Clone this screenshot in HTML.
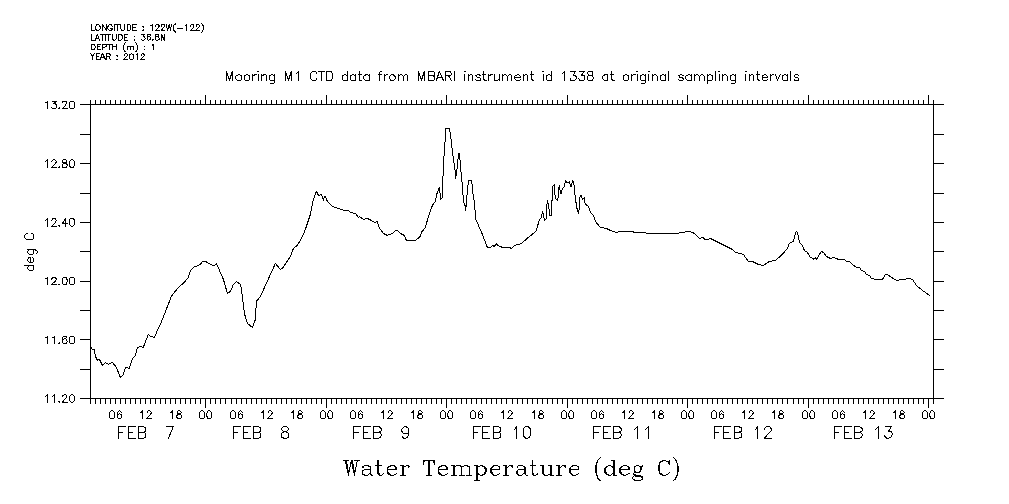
<!DOCTYPE html>
<html><head><meta charset="utf-8"><title>Water Temperature (deg C)</title>
<style>
html,body{margin:0;padding:0;background:#fff;}
body{width:1009px;height:504px;overflow:hidden;font-family:"Liberation Sans",sans-serif;}
svg{display:block;}
.txt text{fill:none;stroke:none;font-family:"Liberation Sans",sans-serif;}
.txt path{fill:none;stroke:#000;stroke-width:1;stroke-linecap:square;stroke-linejoin:round;}
</style></head><body>
<svg width="1009" height="504" viewBox="0 0 1009 504" shape-rendering="crispEdges">
<rect x="0" y="0" width="1009" height="504" fill="#fff"/>
<path fill="#000" d="M90 104h1v295h-1zM933 104h1v295h-1zM80 104h864v1h-864zM80 398h864v1h-864zM80 104h11v1h-11zM933 104h11v1h-11zM80 134h11v1h-11zM933 134h11v1h-11zM80 163h11v1h-11zM933 163h11v1h-11zM80 193h11v1h-11zM933 193h11v1h-11zM80 222h11v1h-11zM933 222h11v1h-11zM80 251h11v1h-11zM933 251h11v1h-11zM80 281h11v1h-11zM933 281h11v1h-11zM80 310h11v1h-11zM933 310h11v1h-11zM80 339h11v1h-11zM933 339h11v1h-11zM80 369h11v1h-11zM933 369h11v1h-11zM80 398h11v1h-11zM933 398h11v1h-11zM90 100h1v5h-1zM90 398h1v6h-1zM95 100h1v5h-1zM95 398h1v6h-1zM100 100h1v5h-1zM100 398h1v6h-1zM105 100h1v5h-1zM105 398h1v6h-1zM110 100h1v5h-1zM110 398h1v6h-1zM115 100h1v5h-1zM115 398h1v6h-1zM120 100h1v5h-1zM120 398h1v6h-1zM125 100h1v5h-1zM125 398h1v6h-1zM130 100h1v5h-1zM130 398h1v6h-1zM135 100h1v5h-1zM135 398h1v6h-1zM140 100h1v5h-1zM140 398h1v6h-1zM145 100h1v5h-1zM145 398h1v6h-1zM150 100h1v5h-1zM150 398h1v6h-1zM155 100h1v5h-1zM155 398h1v6h-1zM160 100h1v5h-1zM160 398h1v6h-1zM165 100h1v5h-1zM165 398h1v6h-1zM170 100h1v5h-1zM170 398h1v6h-1zM175 100h1v5h-1zM175 398h1v6h-1zM180 100h1v5h-1zM180 398h1v6h-1zM185 100h1v5h-1zM185 398h1v6h-1zM190 100h1v5h-1zM190 398h1v6h-1zM195 100h1v5h-1zM195 398h1v6h-1zM200 100h1v5h-1zM200 398h1v6h-1zM205 95h1v10h-1zM205 398h1v10h-1zM210 100h1v5h-1zM210 398h1v6h-1zM215 100h1v5h-1zM215 398h1v6h-1zM220 100h1v5h-1zM220 398h1v6h-1zM225 100h1v5h-1zM225 398h1v6h-1zM231 100h1v5h-1zM231 398h1v6h-1zM236 100h1v5h-1zM236 398h1v6h-1zM241 100h1v5h-1zM241 398h1v6h-1zM246 100h1v5h-1zM246 398h1v6h-1zM251 100h1v5h-1zM251 398h1v6h-1zM256 100h1v5h-1zM256 398h1v6h-1zM261 100h1v5h-1zM261 398h1v6h-1zM266 100h1v5h-1zM266 398h1v6h-1zM271 100h1v5h-1zM271 398h1v6h-1zM276 100h1v5h-1zM276 398h1v6h-1zM281 100h1v5h-1zM281 398h1v6h-1zM286 100h1v5h-1zM286 398h1v6h-1zM291 100h1v5h-1zM291 398h1v6h-1zM296 100h1v5h-1zM296 398h1v6h-1zM301 100h1v5h-1zM301 398h1v6h-1zM306 100h1v5h-1zM306 398h1v6h-1zM311 100h1v5h-1zM311 398h1v6h-1zM316 100h1v5h-1zM316 398h1v6h-1zM321 100h1v5h-1zM321 398h1v6h-1zM326 95h1v10h-1zM326 398h1v10h-1zM331 100h1v5h-1zM331 398h1v6h-1zM336 100h1v5h-1zM336 398h1v6h-1zM341 100h1v5h-1zM341 398h1v6h-1zM346 100h1v5h-1zM346 398h1v6h-1zM351 100h1v5h-1zM351 398h1v6h-1zM356 100h1v5h-1zM356 398h1v6h-1zM361 100h1v5h-1zM361 398h1v6h-1zM366 100h1v5h-1zM366 398h1v6h-1zM371 100h1v5h-1zM371 398h1v6h-1zM376 100h1v5h-1zM376 398h1v6h-1zM381 100h1v5h-1zM381 398h1v6h-1zM386 100h1v5h-1zM386 398h1v6h-1zM391 100h1v5h-1zM391 398h1v6h-1zM396 100h1v5h-1zM396 398h1v6h-1zM401 100h1v5h-1zM401 398h1v6h-1zM406 100h1v5h-1zM406 398h1v6h-1zM411 100h1v5h-1zM411 398h1v6h-1zM416 100h1v5h-1zM416 398h1v6h-1zM421 100h1v5h-1zM421 398h1v6h-1zM426 100h1v5h-1zM426 398h1v6h-1zM431 100h1v5h-1zM431 398h1v6h-1zM436 100h1v5h-1zM436 398h1v6h-1zM441 100h1v5h-1zM441 398h1v6h-1zM446 95h1v10h-1zM446 398h1v10h-1zM451 100h1v5h-1zM451 398h1v6h-1zM456 100h1v5h-1zM456 398h1v6h-1zM461 100h1v5h-1zM461 398h1v6h-1zM466 100h1v5h-1zM466 398h1v6h-1zM471 100h1v5h-1zM471 398h1v6h-1zM476 100h1v5h-1zM476 398h1v6h-1zM481 100h1v5h-1zM481 398h1v6h-1zM486 100h1v5h-1zM486 398h1v6h-1zM491 100h1v5h-1zM491 398h1v6h-1zM496 100h1v5h-1zM496 398h1v6h-1zM501 100h1v5h-1zM501 398h1v6h-1zM506 100h1v5h-1zM506 398h1v6h-1zM512 100h1v5h-1zM512 398h1v6h-1zM517 100h1v5h-1zM517 398h1v6h-1zM522 100h1v5h-1zM522 398h1v6h-1zM527 100h1v5h-1zM527 398h1v6h-1zM532 100h1v5h-1zM532 398h1v6h-1zM537 100h1v5h-1zM537 398h1v6h-1zM542 100h1v5h-1zM542 398h1v6h-1zM547 100h1v5h-1zM547 398h1v6h-1zM552 100h1v5h-1zM552 398h1v6h-1zM557 100h1v5h-1zM557 398h1v6h-1zM562 100h1v5h-1zM562 398h1v6h-1zM567 95h1v10h-1zM567 398h1v10h-1zM572 100h1v5h-1zM572 398h1v6h-1zM577 100h1v5h-1zM577 398h1v6h-1zM582 100h1v5h-1zM582 398h1v6h-1zM587 100h1v5h-1zM587 398h1v6h-1zM592 100h1v5h-1zM592 398h1v6h-1zM597 100h1v5h-1zM597 398h1v6h-1zM602 100h1v5h-1zM602 398h1v6h-1zM607 100h1v5h-1zM607 398h1v6h-1zM612 100h1v5h-1zM612 398h1v6h-1zM617 100h1v5h-1zM617 398h1v6h-1zM622 100h1v5h-1zM622 398h1v6h-1zM627 100h1v5h-1zM627 398h1v6h-1zM632 100h1v5h-1zM632 398h1v6h-1zM637 100h1v5h-1zM637 398h1v6h-1zM642 100h1v5h-1zM642 398h1v6h-1zM647 100h1v5h-1zM647 398h1v6h-1zM652 100h1v5h-1zM652 398h1v6h-1zM657 100h1v5h-1zM657 398h1v6h-1zM662 100h1v5h-1zM662 398h1v6h-1zM667 100h1v5h-1zM667 398h1v6h-1zM672 100h1v5h-1zM672 398h1v6h-1zM677 100h1v5h-1zM677 398h1v6h-1zM682 100h1v5h-1zM682 398h1v6h-1zM687 95h1v10h-1zM687 398h1v10h-1zM692 100h1v5h-1zM692 398h1v6h-1zM697 100h1v5h-1zM697 398h1v6h-1zM702 100h1v5h-1zM702 398h1v6h-1zM707 100h1v5h-1zM707 398h1v6h-1zM712 100h1v5h-1zM712 398h1v6h-1zM717 100h1v5h-1zM717 398h1v6h-1zM722 100h1v5h-1zM722 398h1v6h-1zM727 100h1v5h-1zM727 398h1v6h-1zM732 100h1v5h-1zM732 398h1v6h-1zM737 100h1v5h-1zM737 398h1v6h-1zM742 100h1v5h-1zM742 398h1v6h-1zM747 100h1v5h-1zM747 398h1v6h-1zM752 100h1v5h-1zM752 398h1v6h-1zM757 100h1v5h-1zM757 398h1v6h-1zM762 100h1v5h-1zM762 398h1v6h-1zM767 100h1v5h-1zM767 398h1v6h-1zM772 100h1v5h-1zM772 398h1v6h-1zM777 100h1v5h-1zM777 398h1v6h-1zM782 100h1v5h-1zM782 398h1v6h-1zM787 100h1v5h-1zM787 398h1v6h-1zM793 100h1v5h-1zM793 398h1v6h-1zM798 100h1v5h-1zM798 398h1v6h-1zM803 100h1v5h-1zM803 398h1v6h-1zM808 95h1v10h-1zM808 398h1v10h-1zM813 100h1v5h-1zM813 398h1v6h-1zM818 100h1v5h-1zM818 398h1v6h-1zM823 100h1v5h-1zM823 398h1v6h-1zM828 100h1v5h-1zM828 398h1v6h-1zM833 100h1v5h-1zM833 398h1v6h-1zM838 100h1v5h-1zM838 398h1v6h-1zM843 100h1v5h-1zM843 398h1v6h-1zM848 100h1v5h-1zM848 398h1v6h-1zM853 100h1v5h-1zM853 398h1v6h-1zM858 100h1v5h-1zM858 398h1v6h-1zM863 100h1v5h-1zM863 398h1v6h-1zM868 100h1v5h-1zM868 398h1v6h-1zM873 100h1v5h-1zM873 398h1v6h-1zM878 100h1v5h-1zM878 398h1v6h-1zM883 100h1v5h-1zM883 398h1v6h-1zM888 100h1v5h-1zM888 398h1v6h-1zM893 100h1v5h-1zM893 398h1v6h-1zM898 100h1v5h-1zM898 398h1v6h-1zM903 100h1v5h-1zM903 398h1v6h-1zM908 100h1v5h-1zM908 398h1v6h-1zM913 100h1v5h-1zM913 398h1v6h-1zM918 100h1v5h-1zM918 398h1v6h-1zM923 100h1v5h-1zM923 398h1v6h-1zM928 95h1v10h-1zM928 398h1v10h-1zM933 100h1v5h-1zM933 398h1v6h-1z"/>
<polyline fill="none" stroke="#000" stroke-width="1" stroke-linejoin="round" stroke-linecap="square" points="90.4,346.4 92.4,349.4 94.4,349.4 95.4,356.4 97.4,360.4 99.4,359.4 102.4,365.4 105.4,362.4 108.4,364.4 112.4,362.4 116.4,367.4 120.4,377.4 123.4,374.4 125.4,367.4 129.4,368.4 132.4,358.4 135.4,355.4 137.4,347.4 140.4,346.4 143.4,347.4 144.4,344.4 148.4,334.4 150.4,336.4 154.4,337.4 157.4,330.4 160.4,324.4 171.4,296.4 174.4,292.4 179.4,286.4 183.4,283.4 188.4,277.4 190.4,270.4 193.4,267.4 200.4,264.4 202.4,261.4 205.4,261.4 212.4,265.4 214.4,265.4 216.4,263.4 223.4,279.4 227.4,293.4 230.4,291.4 233.4,284.4 236.4,281.4 240.4,284.4 241.4,289.4 244.4,313.4 247.4,323.4 252.4,327.4 255.4,319.4 256.4,301.4 260.4,296.4 275.4,263.4 280.4,269.4 282.4,268.4 286.4,262.4 290.4,256.4 293.4,248.4 297.4,245.4 302.4,236.4 305.4,229.4 310.4,214.4 313.4,199.4 316.4,191.4 318.4,195.4 321.4,194.4 323.4,200.4 324.4,196.4 325.4,196.4 327.4,201.4 332.4,206.4 344.4,210.4 348.4,210.4 350.4,212.4 355.4,213.4 358.4,217.4 359.4,216.4 363.4,219.4 367.4,218.4 371.4,220.4 374.4,222.4 377.4,221.4 378.4,226.4 380.4,229.4 383.4,233.4 387.4,235.4 392.4,233.4 395.4,230.4 397.4,230.4 400.4,233.4 404.4,235.4 406.4,240.4 415.4,240.4 420.4,236.4 421.4,232.4 425.4,227.4 428.4,216.4 432.4,205.4 435.4,201.4 436.4,195.4 437.4,192.4 438.4,190.4 439.4,187.4 439.4,192.4 440.4,193.4 440.4,199.4 441.4,198.4 442.4,197.4 442.4,176.4 443.4,175.4 443.4,156.4 444.4,155.4 444.4,142.4 445.4,141.4 445.4,128.4 448.4,128.4 449.4,128.4 449.4,131.4 450.4,132.4 450.4,138.4 451.4,139.4 451.4,147.4 452.4,148.4 452.4,155.4 453.4,156.4 453.4,162.4 454.4,163.4 454.4,169.4 455.4,170.4 455.4,178.4 456.4,174.4 456.4,169.4 457.4,168.4 457.4,159.4 458.4,158.4 458.4,153.4 459.4,153.4 459.4,159.4 460.4,160.4 460.4,171.4 461.4,172.4 461.4,181.4 462.4,182.4 462.4,194.4 463.4,195.4 463.4,202.4 464.4,203.4 464.4,205.4 465.4,205.4 465.4,210.4 466.4,204.4 466.4,195.4 467.4,194.4 467.4,185.4 468.4,184.4 468.4,180.4 470.4,180.4 471.4,180.4 471.4,183.4 472.4,184.4 472.4,193.4 473.4,194.4 473.4,199.4 474.4,200.4 474.4,209.4 475.4,210.4 475.4,218.4 482.4,234.4 487.4,247.4 490.4,247.4 492.4,245.4 494.4,246.4 496.4,243.4 497.4,245.4 502.4,247.4 509.4,247.4 511.4,248.4 514.4,245.4 519.4,244.4 521.4,243.4 528.4,237.4 533.4,233.4 536.4,230.4 539.4,219.4 541.4,217.4 542.4,211.4 543.4,214.4 544.4,220.4 546.4,218.4 546.4,209.4 547.4,200.4 548.4,204.4 549.4,212.4 549.4,215.4 551.4,215.4 551.4,200.4 552.4,200.4 552.4,186.4 554.4,184.4 554.4,190.4 555.4,198.4 557.4,200.4 558.4,196.4 558.4,189.4 559.4,185.4 560.4,193.4 561.4,193.4 562.4,188.4 564.4,186.4 565.4,180.4 566.4,182.4 568.4,182.4 569.4,181.4 570.4,186.4 571.4,186.4 572.4,180.4 573.4,182.4 574.4,186.4 574.4,194.4 575.4,195.4 575.4,202.4 576.4,202.4 576.4,207.4 577.4,209.4 578.4,213.4 579.4,208.4 579.4,200.4 580.4,195.4 581.4,195.4 582.4,199.4 583.4,198.4 584.4,197.4 584.4,200.4 585.4,204.4 587.4,205.4 589.4,208.4 590.4,212.4 593.4,215.4 595.4,221.4 600.4,227.4 606.4,228.4 610.4,230.4 616.4,232.4 619.4,231.4 632.4,231.4 634.4,232.4 645.4,232.4 646.4,233.4 678.4,233.4 680.4,232.4 684.4,232.4 685.4,231.4 689.4,231.4 694.4,233.4 699.4,238.4 703.4,237.4 704.4,239.4 708.4,239.4 710.4,238.4 732.4,249.4 735.4,252.4 743.4,254.4 748.4,261.4 752.4,261.4 758.4,264.4 763.4,265.4 769.4,261.4 775.4,260.4 782.4,254.4 787.4,248.4 789.4,243.4 793.4,241.4 795.4,233.4 796.4,231.4 797.4,232.4 799.4,242.4 800.4,243.4 802.4,245.4 804.4,250.4 807.4,252.4 810.4,257.4 813.4,258.4 813.4,259.4 815.4,257.4 816.4,259.4 819.4,254.4 821.4,251.4 823.4,252.4 826.4,256.4 830.4,258.4 833.4,257.4 838.4,259.4 844.4,259.4 846.4,261.4 849.4,261.4 852.4,264.4 856.4,267.4 859.4,267.4 861.4,270.4 864.4,271.4 866.4,274.4 869.4,275.4 871.4,278.4 875.4,279.4 882.4,279.4 885.4,274.4 887.4,274.4 894.4,279.4 897.4,280.4 900.4,279.4 905.4,279.4 907.4,278.4 909.4,278.4 912.4,279.4 916.4,285.4 922.4,290.4 925.4,292.4 929.4,295.4"/>
<g class="txt">
<g><text x="90.9" y="30.6" font-size="8.2" textLength="113.0" lengthAdjust="spacingAndGlyphs" xml:space="preserve">LONGITUDE : 122W(-122)</text><path d="M91.4 24.4L91.4 30.4M91.4 30.4L94.4 30.4M97.4 24.4L96.4 24.4L96.4 25.4L95.4 26.4L95.4 28.4L95.4 29.4L96.4 29.4L96.4 30.4L97.4 30.4L98.4 30.4L99.4 29.4L100.4 28.4L100.4 26.4L99.4 26.4L99.4 25.4L98.4 24.4L97.4 24.4M102.4 24.4L102.4 30.4M102.4 24.4L106.4 30.4M106.4 24.4L106.4 30.4M112.4 26.4L111.4 25.4L111.4 24.4L110.4 24.4L109.4 24.4L108.4 25.4L108.4 26.4L107.4 26.4L107.4 28.4L108.4 29.4L109.4 30.4L110.4 30.4L111.4 30.4L111.4 29.4L112.4 29.4L112.4 28.4M110.4 28.4L112.4 28.4M114.4 24.4L114.4 30.4M117.4 24.4L117.4 30.4M115.4 24.4L119.4 24.4M120.4 24.4L120.4 28.4L121.4 29.4L121.4 30.4L122.4 30.4L123.4 30.4L124.4 29.4L124.4 28.4L124.4 24.4M127.4 24.4L127.4 30.4M127.4 24.4L129.4 24.4L130.4 25.4L130.4 26.4L130.4 28.4L130.4 29.4L129.4 30.4L127.4 30.4M132.4 24.4L132.4 30.4M132.4 24.4L136.4 24.4M132.4 27.4L135.4 27.4M132.4 30.4L136.4 30.4M143.4 26.4L142.4 26.4L143.4 27.4L143.4 26.4M143.4 29.4L142.4 30.4L143.4 30.4L143.4 29.4M150.4 25.4L151.4 25.4L152.4 24.4L152.4 30.4M155.4 26.4L155.4 25.4L156.4 24.4L157.4 24.4L158.4 24.4L158.4 25.4L159.4 25.4L159.4 26.4L158.4 26.4L158.4 27.4L155.4 30.4L159.4 30.4M161.4 26.4L161.4 25.4L161.4 24.4L162.4 24.4L163.4 24.4L164.4 24.4L164.4 25.4L164.4 26.4L163.4 27.4L161.4 30.4L164.4 30.4M166.4 24.4L167.4 30.4M169.4 24.4L167.4 30.4M169.4 24.4L170.4 30.4M171.4 24.4L170.4 30.4M175.4 23.4L175.4 24.4L174.4 24.4L173.4 26.4L173.4 27.4L173.4 28.4L173.4 29.4L174.4 31.4L175.4 31.4L175.4 32.4M177.4 28.4L182.4 28.4M185.4 25.4L186.4 25.4L186.4 24.4L186.4 30.4M190.4 26.4L190.4 25.4L191.4 24.4L192.4 24.4L193.4 24.4L193.4 25.4L193.4 26.4L193.4 27.4L190.4 30.4L194.4 30.4M196.4 26.4L196.4 25.4L196.4 24.4L197.4 24.4L198.4 24.4L199.4 25.4L199.4 26.4L198.4 27.4L195.4 30.4L199.4 30.4M201.4 23.4L202.4 24.4L203.4 26.4L203.4 27.4L203.4 28.4L203.4 29.4L202.4 31.4L201.4 32.4"/></g>
<g><text x="90.9" y="40.2" font-size="8.2" textLength="74.0" lengthAdjust="spacingAndGlyphs" xml:space="preserve">LATITUDE : 36.8N</text><path d="M91.4 34.4L91.4 40.4M91.4 40.4L94.4 40.4M97.4 34.4L95.4 40.4M97.4 34.4L99.4 40.4M95.4 38.4L98.4 38.4M102.4 34.4L102.4 40.4M100.4 34.4L104.4 34.4M105.4 34.4L105.4 40.4M108.4 34.4L108.4 40.4M106.4 34.4L110.4 34.4M112.4 34.4L112.4 38.4L112.4 39.4L113.4 39.4L113.4 40.4L114.4 40.4L115.4 39.4L116.4 38.4L116.4 34.4M118.4 34.4L118.4 40.4M118.4 34.4L120.4 34.4L121.4 34.4L121.4 35.4L122.4 35.4L122.4 36.4L122.4 38.4L121.4 39.4L120.4 40.4L118.4 40.4M124.4 34.4L124.4 40.4M124.4 34.4L127.4 34.4M124.4 37.4L126.4 37.4M124.4 40.4L127.4 40.4M134.4 36.4h.01M134.4 39.4L134.4 40.4L134.4 39.4M141.4 34.4L144.4 34.4L143.4 36.4L144.4 36.4L144.4 37.4L145.4 38.4L144.4 39.4L143.4 40.4L142.4 40.4L141.4 39.4M150.4 35.4L150.4 34.4L149.4 34.4L148.4 34.4L147.4 34.4L147.4 35.4L147.4 36.4L147.4 38.4L147.4 39.4L148.4 40.4L149.4 39.4L150.4 39.4L150.4 38.4L150.4 37.4L149.4 36.4L148.4 36.4L147.4 36.4L147.4 37.4L147.4 38.4M152.4 39.4L152.4 40.4L153.4 39.4L152.4 39.4M156.4 34.4L155.4 34.4L155.4 35.4L155.4 36.4L156.4 36.4L157.4 36.4L158.4 37.4L159.4 38.4L159.4 39.4L158.4 39.4L157.4 40.4L156.4 40.4L155.4 39.4L155.4 38.4L155.4 37.4L156.4 36.4L157.4 36.4L158.4 36.4L158.4 35.4L158.4 34.4L157.4 34.4L156.4 34.4M161.4 34.4L161.4 40.4M161.4 34.4L164.4 40.4M164.4 34.4L164.4 40.4"/></g>
<g><text x="90.9" y="50.0" font-size="8.2" textLength="63.0" lengthAdjust="spacingAndGlyphs" xml:space="preserve">DEPTH (m) : 1</text><path d="M91.4 44.4L91.4 49.4M91.4 44.4L93.4 44.4L94.4 44.4L94.4 45.4L95.4 46.4L95.4 47.4L94.4 48.4L94.4 49.4L93.4 49.4L91.4 49.4M97.4 44.4L97.4 49.4M97.4 44.4L100.4 44.4M97.4 46.4L99.4 46.4M97.4 49.4L100.4 49.4M102.4 44.4L102.4 49.4M102.4 44.4L104.4 44.4L105.4 44.4L106.4 44.4L106.4 45.4L106.4 46.4L105.4 46.4L104.4 47.4L102.4 47.4M109.4 44.4L109.4 49.4M107.4 44.4L111.4 44.4M112.4 44.4L112.4 49.4M116.4 44.4L116.4 49.4M112.4 46.4L116.4 46.4M125.4 42.4L124.4 43.4L124.4 44.4L123.4 45.4L123.4 46.4L123.4 47.4L123.4 49.4L124.4 50.4L124.4 51.4L125.4 51.4M127.4 46.4L127.4 49.4M127.4 47.4L128.4 46.4L129.4 46.4L130.4 46.4L130.4 47.4L130.4 49.4M130.4 47.4L131.4 46.4L132.4 46.4L133.4 46.4L133.4 47.4L133.4 49.4M135.4 42.4L136.4 43.4L136.4 44.4L137.4 45.4L137.4 46.4L137.4 47.4L137.4 49.4L136.4 50.4L136.4 51.4L135.4 51.4M144.4 46.4h.01M144.4 49.4h.01M152.4 45.4L152.4 44.4L153.4 44.4L153.4 49.4"/></g>
<g><text x="89.9" y="59.6" font-size="8.2" textLength="55.0" lengthAdjust="spacingAndGlyphs" xml:space="preserve">YEAR : 2012</text><path d="M90.4 53.4L92.4 56.4L92.4 59.4M94.4 53.4L92.4 56.4M96.4 53.4L96.4 59.4M96.4 53.4L99.4 53.4M96.4 56.4L98.4 56.4M96.4 59.4L99.4 59.4M102.4 53.4L100.4 59.4M102.4 53.4L105.4 59.4M101.4 57.4L104.4 57.4M106.4 53.4L106.4 59.4M106.4 53.4L109.4 53.4L109.4 54.4L110.4 54.4L110.4 55.4L109.4 56.4L106.4 56.4M108.4 56.4L110.4 59.4M117.4 55.4L116.4 55.4L117.4 56.4L117.4 55.4M117.4 59.4L116.4 59.4L117.4 59.4M124.4 55.4L124.4 54.4L125.4 53.4L126.4 53.4L127.4 54.4L127.4 55.4L126.4 56.4L123.4 59.4L127.4 59.4M131.4 53.4L130.4 54.4L129.4 54.4L129.4 56.4L129.4 57.4L129.4 58.4L130.4 59.4L131.4 59.4L132.4 59.4L133.4 58.4L133.4 57.4L133.4 56.4L133.4 54.4L132.4 54.4L131.4 53.4M136.4 54.4L137.4 53.4L137.4 59.4M141.4 55.4L141.4 54.4L142.4 53.4L143.4 53.4L143.4 54.4L144.4 54.4L144.4 55.4L143.4 56.4L140.4 59.4L144.4 59.4"/></g>
<g><text x="225.9" y="80.6" font-size="12.6" textLength="573.0" lengthAdjust="spacingAndGlyphs" xml:space="preserve">Mooring M1 CTD data from MBARI instrument id 1338 at original sampling intervals</text><path d="M226.4 71.4L226.4 80.4M226.4 71.4L229.4 80.4M232.4 71.4L229.4 80.4M232.4 71.4L232.4 80.4M238.4 74.4L237.4 75.4L236.4 75.4L235.4 77.4L235.4 78.4L236.4 79.4L237.4 80.4L238.4 80.4L239.4 80.4L240.4 80.4L241.4 79.4L241.4 78.4L241.4 77.4L241.4 75.4L240.4 75.4L239.4 74.4L238.4 74.4M246.4 74.4L245.4 75.4L244.4 75.4L244.4 77.4L244.4 78.4L244.4 79.4L245.4 80.4L246.4 80.4L247.4 80.4L248.4 80.4L249.4 79.4L249.4 78.4L249.4 77.4L249.4 75.4L248.4 75.4L247.4 74.4L246.4 74.4M252.4 74.4L252.4 80.4M252.4 77.4L253.4 75.4L254.4 75.4L254.4 74.4L256.4 74.4M257.4 71.4L258.4 71.4L257.4 71.4M258.4 74.4L258.4 80.4M261.4 74.4L261.4 80.4M261.4 76.4L263.4 75.4L263.4 74.4L265.4 74.4L266.4 75.4L266.4 76.4L266.4 80.4M274.4 74.4L274.4 81.4L274.4 82.4L273.4 83.4L272.4 83.4L271.4 83.4L270.4 83.4M274.4 75.4L273.4 75.4L272.4 74.4L271.4 74.4L270.4 75.4L269.4 75.4L269.4 77.4L269.4 78.4L269.4 79.4L270.4 80.4L271.4 80.4L272.4 80.4L273.4 80.4L274.4 79.4M285.4 71.4L285.4 80.4M285.4 71.4L288.4 80.4M291.4 71.4L288.4 80.4M291.4 71.4L291.4 80.4M296.4 73.4L297.4 72.4L298.4 71.4L298.4 80.4M316.4 73.4L316.4 72.4L315.4 71.4L314.4 71.4L313.4 71.4L312.4 71.4L311.4 72.4L310.4 73.4L310.4 75.4L310.4 77.4L310.4 78.4L311.4 79.4L312.4 80.4L313.4 80.4L314.4 80.4L315.4 80.4L316.4 79.4L316.4 78.4M321.4 71.4L321.4 80.4M318.4 71.4L324.4 71.4M326.4 71.4L326.4 80.4M326.4 71.4L329.4 71.4L331.4 71.4L331.4 72.4L332.4 73.4L332.4 75.4L332.4 77.4L332.4 78.4L331.4 79.4L331.4 80.4L329.4 80.4L326.4 80.4M347.4 71.4L347.4 80.4M347.4 75.4L346.4 75.4L345.4 74.4L344.4 74.4L343.4 75.4L342.4 75.4L342.4 77.4L342.4 78.4L342.4 79.4L343.4 80.4L344.4 80.4L345.4 80.4L346.4 80.4L347.4 79.4M355.4 74.4L355.4 80.4M355.4 75.4L354.4 75.4L353.4 74.4L352.4 74.4L351.4 75.4L350.4 75.4L350.4 77.4L350.4 78.4L350.4 79.4L351.4 80.4L352.4 80.4L353.4 80.4L354.4 80.4L355.4 79.4M359.4 71.4L359.4 78.4L359.4 80.4L360.4 80.4L361.4 80.4M358.4 74.4L361.4 74.4M369.4 74.4L369.4 80.4M369.4 75.4L368.4 75.4L367.4 74.4L365.4 74.4L365.4 75.4L364.4 75.4L363.4 77.4L363.4 78.4L364.4 79.4L365.4 80.4L367.4 80.4L368.4 80.4L369.4 79.4M381.4 71.4L380.4 71.4L379.4 73.4L379.4 80.4M378.4 74.4L381.4 74.4M384.4 74.4L384.4 80.4M384.4 77.4L384.4 75.4L385.4 75.4L386.4 74.4L387.4 74.4M391.4 74.4L390.4 75.4L389.4 77.4L389.4 78.4L390.4 79.4L390.4 80.4L391.4 80.4L393.4 80.4L394.4 79.4L395.4 78.4L395.4 77.4L394.4 75.4L393.4 75.4L393.4 74.4L391.4 74.4M398.4 74.4L398.4 80.4M398.4 76.4L399.4 75.4L400.4 74.4L401.4 74.4L402.4 75.4L403.4 76.4L403.4 80.4M403.4 76.4L404.4 75.4L405.4 74.4L406.4 74.4L407.4 75.4L407.4 76.4L407.4 80.4M418.4 71.4L418.4 80.4M418.4 71.4L421.4 80.4M424.4 71.4L421.4 80.4M424.4 71.4L424.4 80.4M428.4 71.4L428.4 80.4M428.4 71.4L432.4 71.4L433.4 71.4L434.4 72.4L434.4 73.4L434.4 74.4L434.4 75.4L433.4 75.4L432.4 75.4M428.4 75.4L432.4 75.4L433.4 76.4L434.4 76.4L434.4 77.4L434.4 78.4L434.4 79.4L433.4 80.4L432.4 80.4L428.4 80.4M439.4 71.4L436.4 80.4M439.4 71.4L443.4 80.4M437.4 77.4L441.4 77.4M445.4 71.4L445.4 80.4M445.4 71.4L449.4 71.4L450.4 71.4L450.4 72.4L451.4 73.4L451.4 74.4L450.4 75.4L449.4 75.4L445.4 75.4M448.4 75.4L451.4 80.4M454.4 71.4L454.4 80.4M464.4 71.4L465.4 71.4L464.4 71.4M464.4 74.4L464.4 80.4M468.4 74.4L468.4 80.4M468.4 76.4L469.4 75.4L470.4 74.4L471.4 74.4L472.4 75.4L472.4 76.4L472.4 80.4M480.4 75.4L478.4 74.4L477.4 74.4L476.4 75.4L475.4 75.4L476.4 76.4L477.4 77.4L479.4 77.4L480.4 78.4L480.4 79.4L480.4 80.4L478.4 80.4L477.4 80.4L476.4 80.4L475.4 79.4M483.4 71.4L483.4 78.4L484.4 80.4L485.4 80.4L486.4 80.4M482.4 74.4L485.4 74.4M488.4 74.4L488.4 80.4M488.4 77.4L489.4 75.4L490.4 75.4L490.4 74.4L492.4 74.4M494.4 74.4L494.4 78.4L494.4 80.4L495.4 80.4L496.4 80.4L497.4 80.4L499.4 78.4M499.4 74.4L499.4 80.4M502.4 74.4L502.4 80.4M502.4 76.4L503.4 75.4L504.4 74.4L505.4 74.4L506.4 75.4L507.4 76.4L507.4 80.4M507.4 76.4L508.4 75.4L509.4 74.4L510.4 74.4L511.4 75.4L511.4 76.4L511.4 80.4M514.4 77.4L520.4 77.4L520.4 76.4L519.4 75.4L518.4 74.4L517.4 74.4L516.4 75.4L515.4 75.4L514.4 77.4L514.4 78.4L515.4 79.4L516.4 80.4L517.4 80.4L518.4 80.4L519.4 80.4L520.4 79.4M523.4 74.4L523.4 80.4M523.4 76.4L524.4 75.4L525.4 74.4L526.4 74.4L527.4 75.4L527.4 76.4L527.4 80.4M531.4 71.4L531.4 78.4L532.4 80.4L533.4 80.4M530.4 74.4L533.4 74.4M542.4 71.4L543.4 71.4L542.4 71.4M543.4 74.4L543.4 80.4M551.4 71.4L551.4 80.4M551.4 75.4L550.4 75.4L549.4 74.4L548.4 74.4L547.4 75.4L546.4 75.4L546.4 77.4L546.4 78.4L546.4 79.4L547.4 80.4L548.4 80.4L549.4 80.4L550.4 80.4L551.4 79.4M562.4 73.4L563.4 72.4L564.4 71.4L564.4 80.4M570.4 71.4L575.4 71.4L573.4 75.4L574.4 75.4L575.4 75.4L576.4 77.4L576.4 78.4L575.4 79.4L574.4 80.4L573.4 80.4L572.4 80.4L570.4 80.4L570.4 79.4L570.4 78.4M579.4 71.4L584.4 71.4L581.4 75.4L583.4 75.4L584.4 75.4L584.4 77.4L584.4 78.4L584.4 79.4L583.4 80.4L582.4 80.4L580.4 80.4L579.4 80.4L579.4 79.4L578.4 78.4M589.4 71.4L588.4 71.4L587.4 72.4L587.4 73.4L588.4 74.4L589.4 75.4L590.4 75.4L592.4 75.4L592.4 76.4L593.4 77.4L593.4 78.4L592.4 79.4L592.4 80.4L591.4 80.4L589.4 80.4L588.4 80.4L587.4 79.4L587.4 78.4L587.4 77.4L587.4 76.4L588.4 75.4L589.4 75.4L591.4 75.4L592.4 74.4L592.4 73.4L592.4 72.4L592.4 71.4L591.4 71.4L589.4 71.4M607.4 74.4L607.4 80.4M607.4 75.4L606.4 74.4L604.4 74.4L604.4 75.4L603.4 75.4L602.4 77.4L602.4 78.4L603.4 79.4L604.4 80.4L606.4 80.4L607.4 80.4L607.4 79.4M611.4 71.4L611.4 78.4L612.4 80.4L613.4 80.4L614.4 80.4M610.4 74.4L613.4 74.4M625.4 74.4L624.4 75.4L623.4 75.4L623.4 77.4L623.4 78.4L623.4 79.4L624.4 80.4L625.4 80.4L626.4 80.4L627.4 80.4L628.4 79.4L628.4 78.4L628.4 77.4L628.4 75.4L627.4 75.4L626.4 74.4L625.4 74.4M631.4 74.4L631.4 80.4M631.4 77.4L632.4 75.4L633.4 74.4L635.4 74.4M636.4 71.4L637.4 71.4L636.4 71.4M637.4 74.4L637.4 80.4M645.4 74.4L645.4 81.4L645.4 82.4L644.4 83.4L643.4 83.4L642.4 83.4L641.4 83.4M645.4 75.4L644.4 75.4L643.4 74.4L642.4 74.4L641.4 75.4L640.4 75.4L640.4 77.4L640.4 78.4L640.4 79.4L641.4 80.4L642.4 80.4L643.4 80.4L644.4 80.4L645.4 79.4M648.4 71.4L649.4 71.4L648.4 71.4M648.4 74.4L648.4 80.4M652.4 74.4L652.4 80.4M652.4 76.4L653.4 75.4L654.4 74.4L655.4 74.4L656.4 75.4L657.4 76.4L657.4 80.4M665.4 74.4L665.4 80.4M665.4 75.4L664.4 75.4L663.4 74.4L662.4 74.4L661.4 75.4L660.4 75.4L660.4 77.4L660.4 78.4L660.4 79.4L661.4 80.4L662.4 80.4L663.4 80.4L664.4 80.4L665.4 79.4M668.4 71.4L668.4 80.4M683.4 75.4L682.4 75.4L681.4 74.4L680.4 74.4L679.4 75.4L678.4 75.4L679.4 76.4L679.4 77.4L682.4 77.4L682.4 78.4L683.4 78.4L683.4 79.4L682.4 80.4L681.4 80.4L680.4 80.4L679.4 80.4L678.4 79.4M691.4 74.4L691.4 80.4M691.4 75.4L690.4 75.4L689.4 74.4L688.4 74.4L687.4 75.4L686.4 75.4L685.4 77.4L685.4 78.4L686.4 79.4L687.4 80.4L688.4 80.4L689.4 80.4L690.4 80.4L691.4 79.4M694.4 74.4L694.4 80.4M694.4 76.4L695.4 75.4L696.4 74.4L697.4 74.4L698.4 75.4L699.4 76.4L699.4 80.4M699.4 76.4L700.4 75.4L701.4 74.4L702.4 74.4L703.4 75.4L704.4 76.4L704.4 80.4M707.4 74.4L707.4 83.4M707.4 75.4L708.4 75.4L709.4 74.4L710.4 74.4L711.4 75.4L712.4 75.4L712.4 77.4L712.4 78.4L712.4 79.4L711.4 80.4L710.4 80.4L709.4 80.4L708.4 80.4L707.4 79.4M715.4 71.4L715.4 80.4M718.4 71.4L719.4 71.4L718.4 71.4M719.4 74.4L719.4 80.4M722.4 74.4L722.4 80.4M722.4 76.4L723.4 75.4L724.4 74.4L725.4 74.4L726.4 75.4L727.4 76.4L727.4 80.4M735.4 74.4L735.4 81.4L735.4 82.4L734.4 83.4L733.4 83.4L732.4 83.4L731.4 83.4M735.4 75.4L734.4 75.4L733.4 74.4L732.4 74.4L731.4 75.4L730.4 75.4L730.4 77.4L730.4 78.4L730.4 79.4L731.4 80.4L732.4 80.4L733.4 80.4L734.4 80.4L735.4 79.4M745.4 71.4L746.4 71.4L745.4 71.4M745.4 74.4L745.4 80.4M749.4 74.4L749.4 80.4M749.4 76.4L750.4 75.4L751.4 74.4L752.4 74.4L753.4 75.4L753.4 76.4L753.4 80.4M757.4 71.4L757.4 78.4L758.4 80.4L759.4 80.4M756.4 74.4L759.4 74.4M762.4 77.4L767.4 77.4L767.4 76.4L766.4 75.4L765.4 74.4L764.4 74.4L763.4 75.4L762.4 75.4L762.4 77.4L762.4 78.4L762.4 79.4L763.4 80.4L764.4 80.4L765.4 80.4L766.4 80.4L767.4 79.4M770.4 74.4L770.4 80.4M770.4 77.4L770.4 75.4L771.4 75.4L772.4 74.4L773.4 74.4M775.4 74.4L777.4 80.4M780.4 74.4L777.4 80.4M787.4 74.4L787.4 80.4M787.4 75.4L786.4 75.4L785.4 74.4L784.4 74.4L783.4 75.4L782.4 75.4L782.4 77.4L782.4 78.4L782.4 79.4L783.4 80.4L784.4 80.4L785.4 80.4L786.4 80.4L787.4 79.4M790.4 71.4L790.4 80.4M798.4 75.4L797.4 74.4L795.4 74.4L794.4 75.4L794.4 76.4L795.4 77.4L797.4 77.4L798.4 78.4L798.4 79.4L798.4 80.4L797.4 80.4L795.4 80.4L794.4 80.4L794.4 79.4"/></g>
<g><text x="44.9" y="108.7" font-size="10.5" textLength="30.0" lengthAdjust="spacingAndGlyphs" xml:space="preserve">13.20</text><path d="M45.4 102.4L46.4 102.4L47.4 101.4L47.4 108.4M52.4 101.4L56.4 101.4L53.4 103.4L55.4 103.4L55.4 104.4L56.4 104.4L56.4 105.4L56.4 106.4L56.4 107.4L55.4 108.4L54.4 108.4L53.4 108.4L52.4 108.4L51.4 107.4M59.4 107.4L58.4 108.4L59.4 108.4L59.4 107.4M62.4 102.4L62.4 101.4L63.4 101.4L64.4 101.4L65.4 101.4L66.4 101.4L66.4 102.4L66.4 103.4L65.4 105.4L62.4 108.4L67.4 108.4M71.4 101.4L70.4 101.4L69.4 102.4L69.4 104.4L69.4 105.4L69.4 107.4L70.4 108.4L71.4 108.4L72.4 108.4L73.4 108.4L74.4 107.4L74.4 105.4L74.4 104.4L74.4 102.4L73.4 101.4L72.4 101.4L71.4 101.4"/></g>
<g><text x="44.9" y="167.4" font-size="10.5" textLength="30.0" lengthAdjust="spacingAndGlyphs" xml:space="preserve">12.80</text><path d="M45.4 161.4L46.4 160.4L47.4 159.4L47.4 167.4M51.4 161.4L52.4 160.4L53.4 159.4L54.4 159.4L55.4 160.4L56.4 161.4L56.4 162.4L55.4 162.4L55.4 163.4L51.4 167.4L56.4 167.4M59.4 166.4L58.4 167.4L59.4 167.4L59.4 166.4M64.4 159.4L62.4 160.4L62.4 161.4L62.4 162.4L63.4 162.4L65.4 163.4L66.4 163.4L66.4 164.4L67.4 164.4L67.4 165.4L66.4 166.4L66.4 167.4L65.4 167.4L64.4 167.4L62.4 167.4L62.4 166.4L62.4 165.4L62.4 164.4L63.4 163.4L64.4 163.4L65.4 162.4L66.4 162.4L66.4 161.4L66.4 160.4L65.4 159.4L64.4 159.4M71.4 159.4L70.4 160.4L69.4 161.4L69.4 163.4L69.4 164.4L69.4 165.4L70.4 167.4L71.4 167.4L72.4 167.4L73.4 167.4L74.4 165.4L74.4 164.4L74.4 163.4L74.4 161.4L73.4 160.4L72.4 159.4L71.4 159.4"/></g>
<g><text x="44.9" y="226.1" font-size="10.5" textLength="30.0" lengthAdjust="spacingAndGlyphs" xml:space="preserve">12.40</text><path d="M45.4 220.4L46.4 219.4L47.4 218.4L47.4 226.4M51.4 220.4L52.4 219.4L52.4 218.4L53.4 218.4L54.4 218.4L55.4 218.4L55.4 219.4L56.4 220.4L55.4 221.4L55.4 222.4L51.4 226.4L56.4 226.4M59.4 225.4L58.4 225.4L59.4 226.4L59.4 225.4M65.4 218.4L62.4 223.4L67.4 223.4M65.4 218.4L65.4 226.4M71.4 218.4L70.4 218.4L69.4 220.4L69.4 221.4L69.4 222.4L69.4 224.4L70.4 225.4L71.4 226.4L72.4 226.4L73.4 225.4L74.4 224.4L74.4 222.4L74.4 221.4L74.4 220.4L73.4 218.4L72.4 218.4L71.4 218.4"/></g>
<g><text x="44.9" y="284.9" font-size="10.5" textLength="30.0" lengthAdjust="spacingAndGlyphs" xml:space="preserve">12.00</text><path d="M45.4 278.4L46.4 278.4L47.4 277.4L47.4 284.4M51.4 279.4L51.4 278.4L52.4 278.4L52.4 277.4L53.4 277.4L54.4 277.4L55.4 277.4L55.4 278.4L56.4 278.4L56.4 279.4L55.4 280.4L55.4 281.4L51.4 284.4L56.4 284.4M59.4 284.4L58.4 284.4L59.4 284.4M64.4 277.4L63.4 277.4L62.4 278.4L62.4 280.4L62.4 281.4L62.4 283.4L63.4 284.4L64.4 284.4L65.4 284.4L66.4 284.4L66.4 283.4L67.4 281.4L67.4 280.4L66.4 278.4L66.4 277.4L65.4 277.4L64.4 277.4M71.4 277.4L70.4 277.4L69.4 278.4L69.4 280.4L69.4 281.4L69.4 283.4L70.4 284.4L71.4 284.4L72.4 284.4L73.4 284.4L74.4 283.4L74.4 281.4L74.4 280.4L74.4 278.4L73.4 277.4L72.4 277.4L71.4 277.4"/></g>
<g><text x="44.9" y="343.6" font-size="10.5" textLength="30.0" lengthAdjust="spacingAndGlyphs" xml:space="preserve">11.60</text><path d="M45.4 337.4L46.4 337.4L47.4 336.4L47.4 343.4M52.4 337.4L53.4 337.4L54.4 336.4L54.4 343.4M59.4 342.4L58.4 343.4L59.4 343.4L59.4 342.4M66.4 337.4L66.4 336.4L65.4 336.4L64.4 336.4L63.4 336.4L62.4 337.4L62.4 339.4L62.4 341.4L62.4 342.4L63.4 343.4L64.4 343.4L65.4 343.4L66.4 343.4L66.4 342.4L67.4 341.4L66.4 340.4L66.4 339.4L65.4 338.4L64.4 338.4L63.4 339.4L62.4 340.4L62.4 341.4M71.4 336.4L70.4 336.4L69.4 337.4L69.4 339.4L69.4 340.4L69.4 342.4L70.4 343.4L71.4 343.4L72.4 343.4L73.4 343.4L74.4 342.4L74.4 340.4L74.4 339.4L74.4 337.4L73.4 336.4L72.4 336.4L71.4 336.4"/></g>
<g><text x="44.9" y="402.4" font-size="10.5" textLength="30.0" lengthAdjust="spacingAndGlyphs" xml:space="preserve">11.20</text><path d="M45.4 396.4L46.4 395.4L47.4 394.4L47.4 402.4M52.4 396.4L53.4 395.4L54.4 394.4L54.4 402.4M59.4 401.4L58.4 401.4L59.4 402.4L59.4 401.4M62.4 396.4L62.4 395.4L63.4 395.4L64.4 394.4L65.4 394.4L66.4 395.4L66.4 396.4L66.4 397.4L65.4 398.4L62.4 402.4L67.4 402.4M71.4 394.4L70.4 395.4L69.4 396.4L69.4 398.4L69.4 399.4L69.4 400.4L70.4 401.4L71.4 402.4L72.4 402.4L73.4 401.4L74.4 400.4L74.4 399.4L74.4 398.4L74.4 396.4L73.4 395.4L72.4 394.4L71.4 394.4"/></g>
<g><text x="108.9" y="418.5" font-size="10.5" textLength="13.0" lengthAdjust="spacingAndGlyphs" xml:space="preserve">06</text><path d="M111.4 410.4L110.4 411.4L109.4 412.4L109.4 414.4L109.4 415.4L109.4 417.4L110.4 418.4L111.4 418.4L112.4 418.4L113.4 418.4L114.4 417.4L114.4 415.4L114.4 414.4L114.4 412.4L113.4 411.4L112.4 410.4L111.4 410.4M121.4 412.4L120.4 411.4L119.4 410.4L118.4 411.4L117.4 412.4L117.4 414.4L117.4 415.4L117.4 417.4L118.4 418.4L119.4 418.4L120.4 418.4L121.4 417.4L121.4 416.4L121.4 415.4L121.4 414.4L120.4 414.4L119.4 413.4L118.4 414.4L117.4 414.4L117.4 415.4"/></g>
<g><text x="139.9" y="418.5" font-size="10.5" textLength="12.0" lengthAdjust="spacingAndGlyphs" xml:space="preserve">12</text><path d="M140.4 412.4L141.4 412.4L142.4 410.4L142.4 418.4M147.4 412.4L147.4 411.4L148.4 410.4L149.4 410.4L150.4 411.4L151.4 412.4L151.4 413.4L150.4 413.4L150.4 414.4L146.4 418.4L151.4 418.4"/></g>
<g><text x="169.9" y="418.5" font-size="10.5" textLength="12.0" lengthAdjust="spacingAndGlyphs" xml:space="preserve">18</text><path d="M170.4 412.4L171.4 412.4L172.4 410.4L172.4 418.4M178.4 410.4L177.4 411.4L177.4 412.4L177.4 413.4L178.4 413.4L179.4 414.4L180.4 414.4L181.4 415.4L181.4 417.4L180.4 418.4L179.4 418.4L178.4 418.4L177.4 418.4L177.4 417.4L176.4 417.4L176.4 415.4L177.4 415.4L177.4 414.4L178.4 414.4L180.4 413.4L181.4 412.4L180.4 411.4L179.4 410.4L178.4 410.4"/></g>
<g><text x="198.9" y="418.5" font-size="10.5" textLength="13.0" lengthAdjust="spacingAndGlyphs" xml:space="preserve">00</text><path d="M201.4 410.4L200.4 411.4L199.4 412.4L199.4 414.4L199.4 415.4L199.4 417.4L200.4 418.4L201.4 418.4L202.4 418.4L203.4 418.4L204.4 417.4L204.4 415.4L204.4 414.4L204.4 412.4L203.4 411.4L202.4 410.4L201.4 410.4M208.4 410.4L207.4 411.4L207.4 412.4L206.4 414.4L206.4 415.4L207.4 417.4L207.4 418.4L208.4 418.4L209.4 418.4L210.4 418.4L211.4 417.4L211.4 415.4L211.4 414.4L211.4 412.4L210.4 411.4L209.4 410.4L208.4 410.4"/></g>
<g><text x="229.9" y="418.5" font-size="10.5" textLength="13.0" lengthAdjust="spacingAndGlyphs" xml:space="preserve">06</text><path d="M232.4 410.4L231.4 411.4L230.4 412.4L230.4 414.4L230.4 415.4L230.4 417.4L231.4 418.4L232.4 418.4L233.4 418.4L234.4 418.4L235.4 417.4L235.4 415.4L235.4 414.4L235.4 412.4L234.4 411.4L233.4 410.4L232.4 410.4M242.4 412.4L241.4 411.4L240.4 410.4L239.4 411.4L238.4 412.4L238.4 414.4L238.4 415.4L238.4 417.4L239.4 418.4L240.4 418.4L241.4 418.4L242.4 417.4L242.4 416.4L242.4 415.4L242.4 414.4L241.4 414.4L240.4 413.4L239.4 414.4L238.4 414.4L238.4 415.4"/></g>
<g><text x="260.9" y="418.5" font-size="10.5" textLength="12.0" lengthAdjust="spacingAndGlyphs" xml:space="preserve">12</text><path d="M261.4 412.4L262.4 412.4L263.4 410.4L263.4 418.4M268.4 412.4L268.4 411.4L269.4 410.4L270.4 410.4L271.4 411.4L272.4 412.4L272.4 413.4L271.4 413.4L271.4 414.4L267.4 418.4L272.4 418.4"/></g>
<g><text x="290.9" y="418.5" font-size="10.5" textLength="12.0" lengthAdjust="spacingAndGlyphs" xml:space="preserve">18</text><path d="M291.4 412.4L292.4 412.4L293.4 410.4L293.4 418.4M299.4 410.4L298.4 411.4L298.4 412.4L298.4 413.4L299.4 413.4L300.4 414.4L301.4 414.4L302.4 415.4L302.4 417.4L301.4 418.4L300.4 418.4L299.4 418.4L298.4 418.4L298.4 417.4L297.4 417.4L297.4 415.4L298.4 415.4L298.4 414.4L299.4 414.4L301.4 413.4L302.4 412.4L301.4 411.4L300.4 410.4L299.4 410.4"/></g>
<g><text x="319.9" y="418.5" font-size="10.5" textLength="13.0" lengthAdjust="spacingAndGlyphs" xml:space="preserve">00</text><path d="M322.4 410.4L321.4 411.4L320.4 412.4L320.4 414.4L320.4 415.4L320.4 417.4L321.4 418.4L322.4 418.4L323.4 418.4L324.4 418.4L325.4 417.4L325.4 415.4L325.4 414.4L325.4 412.4L324.4 411.4L323.4 410.4L322.4 410.4M329.4 410.4L328.4 411.4L328.4 412.4L327.4 414.4L327.4 415.4L328.4 417.4L328.4 418.4L329.4 418.4L330.4 418.4L331.4 418.4L332.4 417.4L332.4 415.4L332.4 414.4L332.4 412.4L331.4 411.4L330.4 410.4L329.4 410.4"/></g>
<g><text x="349.9" y="418.5" font-size="10.5" textLength="13.0" lengthAdjust="spacingAndGlyphs" xml:space="preserve">06</text><path d="M352.4 410.4L351.4 411.4L350.4 412.4L350.4 414.4L350.4 415.4L350.4 417.4L351.4 418.4L352.4 418.4L353.4 418.4L354.4 418.4L355.4 417.4L355.4 415.4L355.4 414.4L355.4 412.4L354.4 411.4L353.4 410.4L352.4 410.4M362.4 412.4L361.4 411.4L360.4 410.4L359.4 411.4L358.4 412.4L358.4 414.4L358.4 415.4L358.4 417.4L359.4 418.4L360.4 418.4L361.4 418.4L362.4 417.4L362.4 416.4L362.4 415.4L362.4 414.4L361.4 414.4L360.4 413.4L359.4 414.4L358.4 414.4L358.4 415.4"/></g>
<g><text x="380.9" y="418.5" font-size="10.5" textLength="12.0" lengthAdjust="spacingAndGlyphs" xml:space="preserve">12</text><path d="M381.4 412.4L382.4 412.4L383.4 410.4L383.4 418.4M388.4 412.4L388.4 411.4L389.4 410.4L390.4 410.4L391.4 411.4L392.4 412.4L392.4 413.4L391.4 413.4L391.4 414.4L387.4 418.4L392.4 418.4"/></g>
<g><text x="410.9" y="418.5" font-size="10.5" textLength="12.0" lengthAdjust="spacingAndGlyphs" xml:space="preserve">18</text><path d="M411.4 412.4L412.4 412.4L413.4 410.4L413.4 418.4M419.4 410.4L418.4 411.4L418.4 412.4L418.4 413.4L419.4 413.4L420.4 414.4L421.4 414.4L422.4 415.4L422.4 417.4L421.4 418.4L420.4 418.4L419.4 418.4L418.4 418.4L418.4 417.4L417.4 417.4L417.4 415.4L418.4 415.4L418.4 414.4L419.4 414.4L421.4 413.4L422.4 412.4L421.4 411.4L420.4 410.4L419.4 410.4"/></g>
<g><text x="439.9" y="418.5" font-size="10.5" textLength="13.0" lengthAdjust="spacingAndGlyphs" xml:space="preserve">00</text><path d="M442.4 410.4L441.4 411.4L440.4 412.4L440.4 414.4L440.4 415.4L440.4 417.4L441.4 418.4L442.4 418.4L443.4 418.4L444.4 418.4L445.4 417.4L445.4 415.4L445.4 414.4L445.4 412.4L444.4 411.4L443.4 410.4L442.4 410.4M449.4 410.4L448.4 411.4L448.4 412.4L447.4 414.4L447.4 415.4L448.4 417.4L448.4 418.4L449.4 418.4L450.4 418.4L451.4 418.4L452.4 417.4L452.4 415.4L452.4 414.4L452.4 412.4L451.4 411.4L450.4 410.4L449.4 410.4"/></g>
<g><text x="469.9" y="418.5" font-size="10.5" textLength="13.0" lengthAdjust="spacingAndGlyphs" xml:space="preserve">06</text><path d="M472.4 410.4L471.4 411.4L470.4 412.4L470.4 414.4L470.4 415.4L470.4 417.4L471.4 418.4L472.4 418.4L473.4 418.4L474.4 418.4L475.4 417.4L475.4 415.4L475.4 414.4L475.4 412.4L474.4 411.4L473.4 410.4L472.4 410.4M482.4 412.4L481.4 411.4L480.4 410.4L479.4 411.4L478.4 412.4L478.4 414.4L478.4 415.4L478.4 417.4L479.4 418.4L480.4 418.4L481.4 418.4L482.4 417.4L482.4 416.4L482.4 415.4L482.4 414.4L481.4 414.4L480.4 413.4L479.4 414.4L478.4 414.4L478.4 415.4"/></g>
<g><text x="500.9" y="418.5" font-size="10.5" textLength="12.0" lengthAdjust="spacingAndGlyphs" xml:space="preserve">12</text><path d="M501.4 412.4L502.4 412.4L503.4 410.4L503.4 418.4M508.4 412.4L508.4 411.4L509.4 410.4L510.4 410.4L511.4 411.4L512.4 412.4L512.4 413.4L511.4 413.4L511.4 414.4L507.4 418.4L512.4 418.4"/></g>
<g><text x="531.9" y="418.5" font-size="10.5" textLength="12.0" lengthAdjust="spacingAndGlyphs" xml:space="preserve">18</text><path d="M532.4 412.4L533.4 412.4L534.4 410.4L534.4 418.4M540.4 410.4L539.4 411.4L539.4 412.4L539.4 413.4L540.4 413.4L541.4 414.4L542.4 414.4L543.4 415.4L543.4 417.4L542.4 418.4L541.4 418.4L540.4 418.4L539.4 418.4L539.4 417.4L538.4 417.4L538.4 415.4L539.4 415.4L539.4 414.4L540.4 414.4L542.4 413.4L543.4 412.4L542.4 411.4L541.4 410.4L540.4 410.4"/></g>
<g><text x="560.9" y="418.5" font-size="10.5" textLength="13.0" lengthAdjust="spacingAndGlyphs" xml:space="preserve">00</text><path d="M563.4 410.4L562.4 411.4L561.4 412.4L561.4 414.4L561.4 415.4L561.4 417.4L562.4 418.4L563.4 418.4L564.4 418.4L565.4 418.4L566.4 417.4L566.4 415.4L566.4 414.4L566.4 412.4L565.4 411.4L564.4 410.4L563.4 410.4M570.4 410.4L569.4 411.4L569.4 412.4L568.4 414.4L568.4 415.4L569.4 417.4L569.4 418.4L570.4 418.4L571.4 418.4L572.4 418.4L573.4 417.4L573.4 415.4L573.4 414.4L573.4 412.4L572.4 411.4L571.4 410.4L570.4 410.4"/></g>
<g><text x="590.9" y="418.5" font-size="10.5" textLength="13.0" lengthAdjust="spacingAndGlyphs" xml:space="preserve">06</text><path d="M593.4 410.4L592.4 411.4L591.4 412.4L591.4 414.4L591.4 415.4L591.4 417.4L592.4 418.4L593.4 418.4L594.4 418.4L595.4 418.4L596.4 417.4L596.4 415.4L596.4 414.4L596.4 412.4L595.4 411.4L594.4 410.4L593.4 410.4M603.4 412.4L602.4 411.4L601.4 410.4L600.4 411.4L599.4 412.4L599.4 414.4L599.4 415.4L599.4 417.4L600.4 418.4L601.4 418.4L602.4 418.4L603.4 417.4L603.4 416.4L603.4 415.4L603.4 414.4L602.4 414.4L601.4 413.4L600.4 414.4L599.4 414.4L599.4 415.4"/></g>
<g><text x="621.9" y="418.5" font-size="10.5" textLength="12.0" lengthAdjust="spacingAndGlyphs" xml:space="preserve">12</text><path d="M622.4 412.4L623.4 412.4L624.4 410.4L624.4 418.4M629.4 412.4L629.4 411.4L630.4 410.4L631.4 410.4L632.4 411.4L633.4 412.4L633.4 413.4L632.4 413.4L632.4 414.4L628.4 418.4L633.4 418.4"/></g>
<g><text x="651.9" y="418.5" font-size="10.5" textLength="12.0" lengthAdjust="spacingAndGlyphs" xml:space="preserve">18</text><path d="M652.4 412.4L653.4 412.4L654.4 410.4L654.4 418.4M660.4 410.4L659.4 411.4L659.4 412.4L659.4 413.4L660.4 413.4L661.4 414.4L662.4 414.4L663.4 415.4L663.4 417.4L662.4 418.4L661.4 418.4L660.4 418.4L659.4 418.4L659.4 417.4L658.4 417.4L658.4 415.4L659.4 415.4L659.4 414.4L660.4 414.4L662.4 413.4L663.4 412.4L662.4 411.4L661.4 410.4L660.4 410.4"/></g>
<g><text x="680.9" y="418.5" font-size="10.5" textLength="13.0" lengthAdjust="spacingAndGlyphs" xml:space="preserve">00</text><path d="M683.4 410.4L682.4 411.4L681.4 412.4L681.4 414.4L681.4 415.4L681.4 417.4L682.4 418.4L683.4 418.4L684.4 418.4L685.4 418.4L686.4 417.4L686.4 415.4L686.4 414.4L686.4 412.4L685.4 411.4L684.4 410.4L683.4 410.4M690.4 410.4L689.4 411.4L689.4 412.4L688.4 414.4L688.4 415.4L689.4 417.4L689.4 418.4L690.4 418.4L691.4 418.4L692.4 418.4L693.4 417.4L693.4 415.4L693.4 414.4L693.4 412.4L692.4 411.4L691.4 410.4L690.4 410.4"/></g>
<g><text x="710.9" y="418.5" font-size="10.5" textLength="13.0" lengthAdjust="spacingAndGlyphs" xml:space="preserve">06</text><path d="M713.4 410.4L712.4 411.4L711.4 412.4L711.4 414.4L711.4 415.4L711.4 417.4L712.4 418.4L713.4 418.4L714.4 418.4L715.4 418.4L716.4 417.4L716.4 415.4L716.4 414.4L716.4 412.4L715.4 411.4L714.4 410.4L713.4 410.4M723.4 412.4L722.4 411.4L721.4 410.4L720.4 411.4L719.4 412.4L719.4 414.4L719.4 415.4L719.4 417.4L720.4 418.4L721.4 418.4L722.4 418.4L723.4 417.4L723.4 416.4L723.4 415.4L723.4 414.4L722.4 414.4L721.4 413.4L720.4 414.4L719.4 414.4L719.4 415.4"/></g>
<g><text x="741.9" y="418.5" font-size="10.5" textLength="12.0" lengthAdjust="spacingAndGlyphs" xml:space="preserve">12</text><path d="M742.4 412.4L743.4 412.4L744.4 410.4L744.4 418.4M749.4 412.4L749.4 411.4L750.4 410.4L751.4 410.4L752.4 411.4L753.4 412.4L753.4 413.4L752.4 413.4L752.4 414.4L748.4 418.4L753.4 418.4"/></g>
<g><text x="771.9" y="418.5" font-size="10.5" textLength="12.0" lengthAdjust="spacingAndGlyphs" xml:space="preserve">18</text><path d="M772.4 412.4L773.4 412.4L774.4 410.4L774.4 418.4M780.4 410.4L779.4 411.4L779.4 412.4L779.4 413.4L780.4 413.4L781.4 414.4L782.4 414.4L783.4 415.4L783.4 417.4L782.4 418.4L781.4 418.4L780.4 418.4L779.4 418.4L779.4 417.4L778.4 417.4L778.4 415.4L779.4 415.4L779.4 414.4L780.4 414.4L782.4 413.4L783.4 412.4L782.4 411.4L781.4 410.4L780.4 410.4"/></g>
<g><text x="801.9" y="418.5" font-size="10.5" textLength="13.0" lengthAdjust="spacingAndGlyphs" xml:space="preserve">00</text><path d="M804.4 410.4L803.4 411.4L802.4 412.4L802.4 414.4L802.4 415.4L802.4 417.4L803.4 418.4L804.4 418.4L805.4 418.4L806.4 418.4L807.4 417.4L807.4 415.4L807.4 414.4L807.4 412.4L806.4 411.4L805.4 410.4L804.4 410.4M811.4 410.4L810.4 411.4L810.4 412.4L809.4 414.4L809.4 415.4L810.4 417.4L810.4 418.4L811.4 418.4L812.4 418.4L813.4 418.4L814.4 417.4L814.4 415.4L814.4 414.4L814.4 412.4L813.4 411.4L812.4 410.4L811.4 410.4"/></g>
<g><text x="831.9" y="418.5" font-size="10.5" textLength="13.0" lengthAdjust="spacingAndGlyphs" xml:space="preserve">06</text><path d="M834.4 410.4L833.4 411.4L832.4 412.4L832.4 414.4L832.4 415.4L832.4 417.4L833.4 418.4L834.4 418.4L835.4 418.4L836.4 418.4L837.4 417.4L837.4 415.4L837.4 414.4L837.4 412.4L836.4 411.4L835.4 410.4L834.4 410.4M844.4 412.4L843.4 411.4L842.4 410.4L841.4 411.4L840.4 412.4L840.4 414.4L840.4 415.4L840.4 417.4L841.4 418.4L842.4 418.4L843.4 418.4L844.4 417.4L844.4 416.4L844.4 415.4L844.4 414.4L843.4 414.4L842.4 413.4L841.4 414.4L840.4 414.4L840.4 415.4"/></g>
<g><text x="862.9" y="418.5" font-size="10.5" textLength="12.0" lengthAdjust="spacingAndGlyphs" xml:space="preserve">12</text><path d="M863.4 412.4L864.4 412.4L865.4 410.4L865.4 418.4M870.4 412.4L870.4 411.4L871.4 410.4L872.4 410.4L873.4 411.4L874.4 412.4L874.4 413.4L873.4 413.4L873.4 414.4L869.4 418.4L874.4 418.4"/></g>
<g><text x="892.9" y="418.5" font-size="10.5" textLength="12.0" lengthAdjust="spacingAndGlyphs" xml:space="preserve">18</text><path d="M893.4 412.4L894.4 412.4L895.4 410.4L895.4 418.4M901.4 410.4L900.4 411.4L900.4 412.4L900.4 413.4L901.4 413.4L902.4 414.4L903.4 414.4L904.4 415.4L904.4 417.4L903.4 418.4L902.4 418.4L901.4 418.4L900.4 418.4L900.4 417.4L899.4 417.4L899.4 415.4L900.4 415.4L900.4 414.4L901.4 414.4L903.4 413.4L904.4 412.4L903.4 411.4L902.4 410.4L901.4 410.4"/></g>
<g><text x="921.9" y="418.5" font-size="10.5" textLength="13.0" lengthAdjust="spacingAndGlyphs" xml:space="preserve">00</text><path d="M924.4 410.4L923.4 411.4L922.4 412.4L922.4 414.4L922.4 415.4L922.4 417.4L923.4 418.4L924.4 418.4L925.4 418.4L926.4 418.4L927.4 417.4L927.4 415.4L927.4 414.4L927.4 412.4L926.4 411.4L925.4 410.4L924.4 410.4M931.4 410.4L930.4 411.4L930.4 412.4L929.4 414.4L929.4 415.4L930.4 417.4L930.4 418.4L931.4 418.4L932.4 418.4L933.4 418.4L934.4 417.4L934.4 415.4L934.4 414.4L934.4 412.4L933.4 411.4L932.4 410.4L931.4 410.4"/></g>
<g><text x="117.9" y="438.1" font-size="15.8" textLength="56.0" lengthAdjust="spacingAndGlyphs" xml:space="preserve">FEB  7</text><path d="M118.4 426.4L118.4 438.4M118.4 426.4L125.4 426.4M118.4 432.4L122.4 432.4M128.4 426.4L128.4 438.4M128.4 426.4L135.4 426.4M128.4 432.4L132.4 432.4M128.4 438.4L135.4 438.4M138.4 426.4L138.4 438.4M138.4 426.4L143.4 426.4L144.4 427.4L145.4 427.4L145.4 429.4L145.4 430.4L145.4 431.4L144.4 431.4L143.4 432.4M138.4 432.4L143.4 432.4L144.4 432.4L145.4 433.4L145.4 434.4L145.4 435.4L145.4 437.4L144.4 437.4L143.4 438.4L138.4 438.4M173.4 426.4L168.4 438.4M166.4 426.4L173.4 426.4"/></g>
<g><text x="232.9" y="438.1" font-size="15.8" textLength="56.0" lengthAdjust="spacingAndGlyphs" xml:space="preserve">FEB  8</text><path d="M233.4 426.4L233.4 438.4M233.4 426.4L240.4 426.4M233.4 432.4L237.4 432.4M243.4 426.4L243.4 438.4M243.4 426.4L250.4 426.4M243.4 432.4L247.4 432.4M243.4 438.4L250.4 438.4M253.4 426.4L253.4 438.4M253.4 426.4L258.4 426.4L259.4 427.4L260.4 427.4L260.4 429.4L260.4 430.4L260.4 431.4L259.4 431.4L258.4 432.4M253.4 432.4L258.4 432.4L259.4 432.4L260.4 433.4L260.4 434.4L260.4 435.4L260.4 437.4L259.4 437.4L258.4 438.4L253.4 438.4M284.4 426.4L282.4 427.4L281.4 428.4L281.4 429.4L282.4 430.4L283.4 431.4L285.4 431.4L287.4 432.4L288.4 433.4L288.4 434.4L288.4 435.4L288.4 437.4L287.4 437.4L286.4 438.4L284.4 438.4L282.4 437.4L281.4 437.4L281.4 435.4L281.4 434.4L281.4 433.4L283.4 432.4L284.4 431.4L286.4 431.4L287.4 430.4L288.4 429.4L288.4 428.4L287.4 427.4L286.4 426.4L284.4 426.4"/></g>
<g><text x="352.9" y="438.1" font-size="15.8" textLength="56.0" lengthAdjust="spacingAndGlyphs" xml:space="preserve">FEB  9</text><path d="M353.4 426.4L353.4 438.4M353.4 426.4L360.4 426.4M353.4 432.4L358.4 432.4M363.4 426.4L363.4 438.4M363.4 426.4L370.4 426.4M363.4 432.4L367.4 432.4M363.4 438.4L370.4 438.4M373.4 426.4L373.4 438.4M373.4 426.4L378.4 426.4L380.4 427.4L381.4 429.4L381.4 430.4L380.4 431.4L378.4 432.4M373.4 432.4L378.4 432.4L380.4 432.4L380.4 433.4L381.4 434.4L381.4 435.4L380.4 437.4L378.4 438.4L373.4 438.4M408.4 430.4L408.4 432.4L407.4 433.4L405.4 433.4L403.4 433.4L402.4 432.4L401.4 430.4L402.4 428.4L403.4 427.4L405.4 426.4L407.4 427.4L408.4 428.4L408.4 430.4L408.4 433.4L408.4 435.4L407.4 437.4L405.4 438.4L404.4 438.4L402.4 437.4L402.4 436.4"/></g>
<g><text x="472.9" y="438.1" font-size="15.8" textLength="58.0" lengthAdjust="spacingAndGlyphs" xml:space="preserve">FEB 10</text><path d="M473.4 426.4L473.4 438.4M473.4 426.4L480.4 426.4M473.4 432.4L477.4 432.4M482.4 426.4L482.4 438.4M482.4 426.4L489.4 426.4M482.4 432.4L487.4 432.4M482.4 438.4L489.4 438.4M493.4 426.4L493.4 438.4M493.4 426.4L498.4 426.4L499.4 427.4L500.4 427.4L500.4 429.4L500.4 430.4L500.4 431.4L499.4 431.4L498.4 432.4M493.4 432.4L498.4 432.4L499.4 432.4L500.4 433.4L500.4 434.4L500.4 435.4L500.4 437.4L499.4 437.4L498.4 438.4L493.4 438.4M514.4 429.4L515.4 428.4L516.4 426.4L516.4 438.4M526.4 426.4L524.4 427.4L523.4 429.4L523.4 431.4L523.4 433.4L523.4 435.4L524.4 437.4L526.4 438.4L527.4 438.4L529.4 437.4L530.4 435.4L530.4 433.4L530.4 431.4L530.4 429.4L529.4 427.4L527.4 426.4L526.4 426.4"/></g>
<g><text x="592.9" y="438.1" font-size="15.8" textLength="56.0" lengthAdjust="spacingAndGlyphs" xml:space="preserve">FEB 11</text><path d="M593.4 426.4L593.4 438.4M593.4 426.4L600.4 426.4M593.4 432.4L598.4 432.4M603.4 426.4L603.4 438.4M603.4 426.4L610.4 426.4M603.4 432.4L607.4 432.4M603.4 438.4L610.4 438.4M613.4 426.4L613.4 438.4M613.4 426.4L618.4 426.4L620.4 427.4L621.4 429.4L621.4 430.4L620.4 431.4L618.4 432.4M613.4 432.4L618.4 432.4L620.4 432.4L620.4 433.4L621.4 434.4L621.4 435.4L620.4 437.4L618.4 438.4L613.4 438.4M634.4 429.4L635.4 428.4L637.4 426.4L637.4 438.4M645.4 429.4L646.4 428.4L648.4 426.4L648.4 438.4"/></g>
<g><text x="713.9" y="438.1" font-size="15.8" textLength="58.0" lengthAdjust="spacingAndGlyphs" xml:space="preserve">FEB 12</text><path d="M714.4 426.4L714.4 438.4M714.4 426.4L721.4 426.4M714.4 432.4L718.4 432.4M723.4 426.4L723.4 438.4M723.4 426.4L730.4 426.4M723.4 432.4L728.4 432.4M723.4 438.4L730.4 438.4M734.4 426.4L734.4 438.4M734.4 426.4L738.4 426.4L740.4 427.4L741.4 427.4L741.4 429.4L741.4 430.4L741.4 431.4L740.4 431.4L738.4 432.4M734.4 432.4L738.4 432.4L740.4 432.4L741.4 433.4L741.4 434.4L741.4 435.4L741.4 437.4L740.4 437.4L738.4 438.4L734.4 438.4M755.4 429.4L756.4 428.4L757.4 426.4L757.4 438.4M764.4 429.4L765.4 427.4L766.4 426.4L769.4 426.4L770.4 427.4L771.4 429.4L771.4 430.4L770.4 431.4L769.4 432.4L764.4 438.4L771.4 438.4"/></g>
<g><text x="833.9" y="438.1" font-size="15.8" textLength="59.0" lengthAdjust="spacingAndGlyphs" xml:space="preserve">FEB 13</text><path d="M834.4 426.4L834.4 438.4M834.4 426.4L841.4 426.4M834.4 432.4L838.4 432.4M844.4 426.4L844.4 438.4M844.4 426.4L851.4 426.4M844.4 432.4L848.4 432.4M844.4 438.4L851.4 438.4M854.4 426.4L854.4 438.4M854.4 426.4L859.4 426.4L860.4 427.4L861.4 427.4L862.4 429.4L862.4 430.4L861.4 431.4L860.4 431.4L859.4 432.4M854.4 432.4L859.4 432.4L860.4 432.4L861.4 433.4L862.4 434.4L862.4 435.4L861.4 437.4L860.4 437.4L859.4 438.4L854.4 438.4M875.4 429.4L876.4 428.4L878.4 426.4L878.4 438.4M885.4 426.4L891.4 426.4L888.4 431.4L890.4 431.4L891.4 431.4L891.4 432.4L892.4 433.4L892.4 434.4L891.4 436.4L890.4 437.4L888.4 438.4L887.4 438.4L885.4 437.4L884.4 435.4"/></g>
<g><text x="342.9" y="475.6" font-size="21.0" textLength="336.0" lengthAdjust="spacingAndGlyphs" style="font-family:'Liberation Serif',serif" xml:space="preserve">Water Temperature (deg C)</text><path d="M345.4 460.4L348.4 475.4M346.4 460.4L348.4 472.4M351.4 460.4L348.4 475.4M351.4 460.4L354.4 475.4M352.4 460.4L354.4 472.4M357.4 460.4L354.4 475.4M343.4 460.4L348.4 460.4M354.4 460.4L359.4 460.4M363.4 466.4L363.4 467.4L362.4 467.4L362.4 466.4L363.4 466.4L365.4 465.4L367.4 465.4L369.4 466.4L370.4 466.4L370.4 468.4L370.4 473.4L371.4 474.4L372.4 475.4M370.4 466.4L370.4 473.4L370.4 474.4L372.4 475.4M370.4 468.4L369.4 469.4L365.4 469.4L362.4 470.4L362.4 472.4L362.4 473.4L362.4 474.4L365.4 475.4L367.4 475.4L368.4 474.4L370.4 473.4M365.4 469.4L363.4 470.4L362.4 472.4L362.4 473.4L363.4 474.4L365.4 475.4M377.4 460.4L377.4 472.4L378.4 474.4L380.4 475.4L381.4 475.4L382.4 474.4L383.4 473.4M378.4 460.4L378.4 472.4L379.4 474.4L380.4 475.4M375.4 465.4L381.4 465.4M387.4 469.4L396.4 469.4L396.4 468.4L395.4 466.4L393.4 465.4L391.4 465.4L389.4 466.4L387.4 467.4L387.4 469.4L387.4 471.4L387.4 473.4L389.4 474.4L391.4 475.4L393.4 475.4L395.4 474.4L396.4 473.4M395.4 469.4L395.4 467.4L395.4 466.4M391.4 465.4L390.4 466.4L388.4 467.4L387.4 469.4L387.4 471.4L388.4 473.4L390.4 474.4L391.4 475.4M402.4 465.4L402.4 475.4M403.4 465.4L403.4 475.4M403.4 469.4L403.4 467.4L405.4 466.4L406.4 465.4L408.4 465.4L409.4 466.4L408.4 467.4L408.4 466.4M400.4 465.4L403.4 465.4M400.4 475.4L405.4 475.4M428.4 460.4L428.4 475.4M429.4 460.4L429.4 475.4M424.4 460.4L423.4 464.4L423.4 460.4L434.4 460.4L434.4 464.4L433.4 460.4M426.4 475.4L431.4 475.4M438.4 469.4L447.4 469.4L447.4 468.4L446.4 466.4L444.4 465.4L442.4 465.4L440.4 466.4L438.4 467.4L438.4 469.4L438.4 471.4L438.4 473.4L440.4 474.4L442.4 475.4L443.4 475.4L446.4 474.4L447.4 473.4M446.4 469.4L446.4 467.4L446.4 466.4M442.4 465.4L441.4 466.4L439.4 467.4L438.4 469.4L438.4 471.4L439.4 473.4L441.4 474.4L442.4 475.4M453.4 465.4L453.4 475.4M454.4 465.4L454.4 475.4M454.4 467.4L455.4 466.4L457.4 465.4L459.4 465.4L461.4 466.4L461.4 467.4L461.4 475.4M459.4 465.4L460.4 466.4L461.4 467.4L461.4 475.4M461.4 467.4L463.4 466.4L465.4 465.4L466.4 465.4L469.4 466.4L469.4 467.4L469.4 475.4M466.4 465.4L468.4 466.4L469.4 467.4L469.4 475.4M451.4 465.4L454.4 465.4M451.4 475.4L456.4 475.4M459.4 475.4L464.4 475.4M466.4 475.4L471.4 475.4M476.4 465.4L476.4 480.4M477.4 465.4L477.4 480.4M477.4 467.4L479.4 466.4L480.4 465.4L481.4 465.4L484.4 466.4L485.4 467.4L486.4 469.4L486.4 471.4L485.4 473.4L484.4 474.4L481.4 475.4L480.4 475.4L479.4 474.4L477.4 473.4M481.4 465.4L483.4 466.4L484.4 467.4L485.4 469.4L485.4 471.4L484.4 473.4L483.4 474.4L481.4 475.4M474.4 465.4L477.4 465.4M474.4 480.4L479.4 480.4M491.4 469.4L499.4 469.4L499.4 468.4L499.4 466.4L498.4 466.4L497.4 465.4L494.4 465.4L492.4 466.4L491.4 467.4L490.4 469.4L490.4 471.4L491.4 473.4L492.4 474.4L494.4 475.4L496.4 475.4L498.4 474.4L499.4 473.4M499.4 469.4L499.4 467.4L498.4 466.4M494.4 465.4L493.4 466.4L492.4 467.4L491.4 469.4L491.4 471.4L492.4 473.4L493.4 474.4L494.4 475.4M505.4 465.4L505.4 475.4M506.4 465.4L506.4 475.4M506.4 469.4L507.4 467.4L508.4 466.4L509.4 465.4L512.4 465.4L512.4 466.4L512.4 467.4L511.4 466.4L512.4 466.4M503.4 465.4L506.4 465.4M503.4 475.4L508.4 475.4M517.4 466.4L517.4 467.4L517.4 466.4L519.4 465.4L522.4 465.4L523.4 466.4L524.4 466.4L525.4 468.4L525.4 473.4L525.4 474.4L526.4 475.4M524.4 466.4L524.4 473.4L525.4 474.4L526.4 475.4L527.4 475.4M524.4 468.4L523.4 469.4L519.4 469.4L517.4 470.4L516.4 472.4L516.4 473.4L517.4 474.4L519.4 475.4L521.4 475.4L522.4 474.4L524.4 473.4M519.4 469.4L517.4 470.4L517.4 472.4L517.4 473.4L517.4 474.4L519.4 475.4M532.4 460.4L532.4 472.4L532.4 474.4L534.4 475.4L535.4 475.4L537.4 474.4L537.4 473.4M532.4 460.4L532.4 472.4L533.4 474.4L534.4 475.4M530.4 465.4L535.4 465.4M542.4 465.4L542.4 473.4L543.4 474.4L545.4 475.4L547.4 475.4L549.4 474.4L550.4 473.4M543.4 465.4L543.4 473.4L544.4 474.4L545.4 475.4M550.4 465.4L550.4 475.4M551.4 465.4L551.4 475.4M540.4 465.4L543.4 465.4M548.4 465.4L551.4 465.4M550.4 475.4L553.4 475.4M558.4 465.4L558.4 475.4M559.4 465.4L559.4 475.4M559.4 469.4L560.4 467.4L561.4 466.4L563.4 465.4L565.4 465.4L565.4 466.4L565.4 467.4L564.4 466.4L565.4 466.4M556.4 465.4L559.4 465.4M556.4 475.4L561.4 475.4M570.4 469.4L578.4 469.4L578.4 468.4L578.4 466.4L577.4 466.4L576.4 465.4L573.4 465.4L571.4 466.4L570.4 467.4L569.4 469.4L569.4 471.4L570.4 473.4L571.4 474.4L573.4 475.4L575.4 475.4L577.4 474.4L578.4 473.4M578.4 469.4L578.4 467.4L577.4 466.4M573.4 465.4L572.4 466.4L570.4 467.4L570.4 469.4L570.4 471.4L570.4 473.4L572.4 474.4L573.4 475.4M600.4 457.4L598.4 459.4L597.4 461.4L596.4 464.4L595.4 467.4L595.4 470.4L596.4 474.4L597.4 477.4L598.4 479.4L600.4 480.4M598.4 459.4L597.4 461.4L596.4 464.4L596.4 467.4L596.4 470.4L596.4 474.4L597.4 476.4L598.4 479.4M613.4 460.4L613.4 475.4M614.4 460.4L614.4 475.4M613.4 467.4L611.4 466.4L610.4 465.4L609.4 465.4L606.4 466.4L605.4 467.4L604.4 469.4L604.4 471.4L605.4 473.4L606.4 474.4L609.4 475.4L610.4 475.4L611.4 474.4L613.4 473.4M609.4 465.4L607.4 466.4L606.4 467.4L605.4 469.4L605.4 471.4L606.4 473.4L607.4 474.4L609.4 475.4M611.4 460.4L614.4 460.4M613.4 475.4L616.4 475.4M620.4 469.4L629.4 469.4L629.4 468.4L628.4 466.4L627.4 466.4L626.4 465.4L624.4 465.4L621.4 466.4L620.4 467.4L619.4 469.4L619.4 471.4L620.4 473.4L621.4 474.4L624.4 475.4L625.4 475.4L627.4 474.4L629.4 473.4M628.4 469.4L628.4 467.4L627.4 466.4M624.4 465.4L622.4 466.4L621.4 467.4L620.4 469.4L620.4 471.4L621.4 473.4L622.4 474.4L624.4 475.4M636.4 465.4L635.4 466.4L634.4 466.4L634.4 468.4L634.4 469.4L634.4 471.4L635.4 472.4L636.4 472.4L638.4 472.4L639.4 472.4L640.4 471.4L641.4 469.4L641.4 468.4L640.4 466.4L639.4 466.4L638.4 465.4L636.4 465.4M635.4 466.4L634.4 467.4L634.4 470.4L635.4 472.4M639.4 472.4L640.4 470.4L640.4 467.4L639.4 466.4M640.4 466.4L641.4 466.4L642.4 465.4L642.4 466.4L641.4 466.4M634.4 471.4L634.4 472.4L633.4 473.4L633.4 474.4L634.4 475.4L636.4 476.4L639.4 476.4L642.4 477.4M633.4 474.4L634.4 474.4L636.4 475.4L639.4 475.4L642.4 476.4L642.4 477.4L642.4 478.4L642.4 479.4L639.4 480.4L635.4 480.4L633.4 479.4L632.4 478.4L632.4 477.4L633.4 476.4L635.4 475.4M668.4 462.4L669.4 464.4L669.4 460.4L668.4 462.4L667.4 461.4L664.4 460.4L663.4 460.4L661.4 461.4L659.4 462.4L659.4 464.4L658.4 466.4L658.4 469.4L659.4 472.4L659.4 473.4L661.4 474.4L663.4 475.4L664.4 475.4L667.4 474.4L668.4 473.4L669.4 472.4M663.4 460.4L662.4 461.4L660.4 462.4L659.4 464.4L659.4 466.4L659.4 469.4L659.4 472.4L660.4 473.4L662.4 474.4L663.4 475.4M673.4 457.4L675.4 459.4L676.4 461.4L677.4 464.4L678.4 467.4L678.4 470.4L677.4 474.4L676.4 477.4L675.4 479.4L673.4 480.4M675.4 459.4L676.4 461.4L677.4 464.4L677.4 467.4L677.4 470.4L677.4 474.4L676.4 476.4L675.4 479.4"/></g>
<g><text transform="translate(34.0,270.9) rotate(-90)" font-size="12.6" textLength="38.0" lengthAdjust="spacingAndGlyphs">deg C</text><path d="M24.4 265.4L33.4 265.4M29.4 265.4L28.4 266.4L27.4 267.4L27.4 268.4L28.4 269.4L29.4 270.4L30.4 270.4L31.4 270.4L32.4 270.4L33.4 269.4L33.4 268.4L33.4 267.4L33.4 266.4L32.4 265.4M30.4 262.4L30.4 257.4L29.4 257.4L28.4 257.4L28.4 258.4L27.4 259.4L27.4 260.4L28.4 261.4L29.4 262.4L30.4 262.4L31.4 262.4L32.4 262.4L33.4 261.4L33.4 260.4L33.4 259.4L33.4 258.4L32.4 257.4M27.4 249.4L34.4 249.4L36.4 250.4L37.4 251.4L37.4 252.4L36.4 253.4M29.4 249.4L28.4 250.4L27.4 251.4L27.4 252.4L28.4 253.4L29.4 254.4L30.4 254.4L31.4 254.4L32.4 254.4L33.4 253.4L33.4 252.4L33.4 251.4L33.4 250.4L32.4 249.4M27.4 233.4L26.4 233.4L25.4 234.4L24.4 235.4L24.4 237.4L25.4 238.4L26.4 239.4L27.4 239.4L28.4 239.4L30.4 239.4L31.4 239.4L32.4 239.4L33.4 238.4L33.4 237.4L33.4 235.4L33.4 234.4L32.4 233.4L31.4 233.4"/></g>
</g>
</svg>
</body></html>
